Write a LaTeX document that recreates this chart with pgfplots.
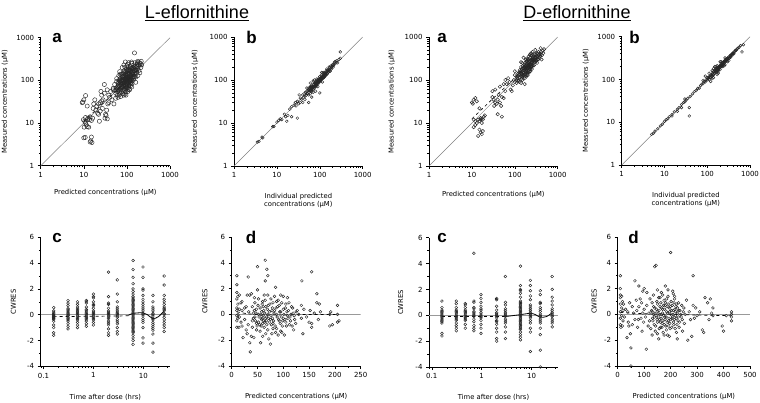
\documentclass[border=0pt]{standalone}
\usepackage{fontspec}
\setmainfont{DejaVu Sans}
\newfontfamily\titlefont{Liberation Sans}
\usepackage{pgfplots}
\pgfplotsset{compat=1.18}
\pgfplotsset{
 mypanel/.style={scale only axis, axis lines=left, axis line style={-, black, line width=0.6pt},
   tick align=outside, tick style={black, line width=0.5pt}, major tick length=3pt, minor tick length=1.8pt,
   tick label style={font=\fontsize{7}{8}\selectfont}, label style={font=\fontsize{6.8}{8}\selectfont},
   /pgf/number format/assume math mode=true},
 myll/.style={mypanel, xmin=1, xmax=1000, ymin=1, ymax=1000,
   xtick={1,10,100,1000}, xticklabels={1,10,100,1000}, ytick={1,10,100,1000}, yticklabels={1,10,100,1000},
   minor xtick={2,3,4,5,6,7,8,9,20,30,40,50,60,70,80,90,200,300,400,500,600,700,800,900},
   minor ytick={2,3,4,5,6,7,8,9,20,30,40,50,60,70,80,90,200,300,400,500,600,700,800,900},
   ylabel={Measured concentrations (μM)}},
 mycw/.style={mypanel, ymin=-4, ymax=6, ytick={-4,-2,0,2,4,6}, yticklabels={-4,-2,0,2,4,6}, minor ytick={-3,-1,1,3,5}, ylabel={CWRES}},
 mytime/.style={xmin=0.088, xmax=34, xtick={0.1,1,10}, xticklabels={0.1,1,10},
   minor xtick={0.09,0.2,0.3,0.4,0.5,0.6,0.7,0.8,0.9,2,3,4,5,6,7,8,9,20,30}, xlabel={Time after dose (hrs)}},
 mypts/.style={only marks, mark=o, mark size=#1, mark options={line width=0.45pt, draw=black!85}},
 myident/.style={gray, line width=0.5pt, no marks},
 myzero/.style={gray!80, line width=0.6pt, no marks},
}
\newcommand{\plab}[3]{\node[font=\titlefont\bfseries\fontsize{17}{17}\selectfont, anchor=center] at (#1pt,#2pt) {#3};}
\begin{document}
\begin{tikzpicture}
\path[use as bounding box] (0pt,0pt) rectangle (760pt,402pt);
\node[font=\titlefont\fontsize{18}{19}\selectfont] at (197pt,389pt) {\underline{L-eflornithine}};
\node[font=\titlefont\fontsize{18}{19}\selectfont] at (577pt,389pt) {\underline{D-eflornithine}};

% ---------- L-a
\begin{loglogaxis}[myll, at={(40.7pt,236.3pt)}, anchor=south west, width=129.3pt, height=128pt,
  xlabel={Predicted concentrations (μM)},
  xlabel style={at={(axis description cs:0.5,0)}, anchor=center, yshift=-27.3pt},
  ylabel style={at={(axis description cs:-0.276,0.5)}, anchor=center}]
\addplot[myident] coordinates {(1,1) (1000,1000)};
\addplot[mypts=2.1pt] coordinates {(9.5,31)(10,35)(9.2,30)(11,44)(12,25)(9.8,12)(10.5,11)(11,10)(11.5,9)(10.2,8)(12,8.2)(13,8)(10,4.5)(10.8,4.6)(15,4.7)(14,3.6)(15.5,3.5)(14.5,3.8)(12.5,13)(13.5,12)(14,14)(15,11.5)(16,13)(11,13.5)(12,12)(17,28)(18,35)(16.5,22)(20,25)(19,20)(21,17)(22,16)(23,11)(24,30)(25,55)(26,45)(28,35)(30,50)(27,22)(31,13)(32,16)(33,15)(35,12.5)(34,20)(36,28)(38,30)(40,40)(30,80)(35,60)(42,55)(45,35)(38,45)(48,60)(50,28)(22,28)(24,19)(26,33)
(55,50)(60,45)(60,70)(62,55)(65,60)(65,90)(68,75)(70,50)(70,65)(70,110)(72,80)(75,55)(75,95)(75,140)(78,70)(80,60)(80,85)(80,120)(82,100)(85,45)(85,75)(85,150)(88,90)(90,65)(90,110)(90,200)(92,80)(95,55)(95,130)(95,95)(98,70)(100,100)(100,160)(100,85)(102,60)(105,120)(105,240)(108,90)(110,75)(110,140)(112,180)(115,100)(115,60)(118,130)(120,85)(120,210)(125,110)(125,160)(130,70)(130,250)(135,140)(140,100)(140,200)(150,120)(150,170)(155,260)(160,90)(165,150)(170,210)(180,130)(180,280)(190,170)(200,230)(210,200)(215,280)(200,150)(175,260)(160,200)(145,230)(128,270)(110,260)(88,170)(65,130)(58,95)(52,80)(48,65)(55,38)(62,40)(72,42)(80,48)(95,45)(105,55)(90,48)(66,100)(76,125)(84,130)(93,160)(97,180)(103,145)(113,115)(118,95)(122,75)(135,180)(142,125)(155,210)(62,85)(70,140)(78,200)(85,230)(92,270)(100,220)(108,200)(68,160)(110,170)(95,115)(85,105)(75,80)(100,115)(150,440)
(58,60)(63,72)(67,58)(71,88)(74,66)(77,105)(79,92)(81,74)(83,115)(86,82)(87,62)(89,125)(91,95)(93,72)(94,105)(96,140)(97,88)(99,110)(101,78)(103,95)(104,130)(106,68)(107,105)(109,150)(111,88)(112,120)(114,78)(116,145)(117,108)(119,170)(121,98)(123,130)(124,90)(126,190)(127,120)(129,100)(132,155)(134,115)(137,200)(139,135)(141,170)(144,110)(146,150)(148,190)(152,140)(157,180)(162,120)(168,170)(172,240)(178,190)(185,230)(195,260)(205,250)(220,230)(58,110)(66,45)(73,100)(82,140)(88,58)(96,75)(102,170)(113,62)(119,195)(131,85)(85,88)(92,102)(98,120)(105,80)(76,72)(69,95)(64,78)(57,66)(53,58)(61,62)};
\addplot[black, dashed, line width=0.6pt, no marks] coordinates {(10,11) (30,31) (100,98) (200,190)};
\end{loglogaxis}

% ---------- L-b
\begin{loglogaxis}[myll, at={(234pt,236pt)}, anchor=south west, width=128.7pt, height=129pt,
  xlabel={Individual predicted\\concentrations (μM)},
  xlabel style={at={(axis description cs:0.5,0)}, anchor=center, align=center, yshift=-35pt},
  ylabel style={at={(axis description cs:-0.303,0.5)}, anchor=center}]
\addplot[myident] coordinates {(1,1) (1000,1000)};
\addplot[mypts=1.4pt] coordinates {(3.5,3.6)(3.8,3.7)(4.5,4.7)(4.7,4.5)(8,8.2)(8.5,8.3)(10,10.5)(11,11.5)(12,12.5)(13,12)(15,16)(16,14)(17,11)(18,15)(20,21)(22,24)(22,14)(25,26)(27,30)(28,25)(30,32)(30,13)(32,28)(35,38)(38,36)(40,45)(42,40)(45,50)(48,44)(50,55)(52,48)(55,60)(55,45)(58,62)(60,55)(60,70)(62,58)(65,72)(65,55)(68,65)(70,78)(70,60)(72,70)(75,85)(75,65)(78,80)(80,90)(80,70)(82,78)(85,95)(85,75)(88,90)(90,100)(90,80)(92,85)(95,110)(95,90)(98,95)(100,120)(100,105)(100,90)(100,50)(105,100)(108,115)(110,130)(110,105)(115,120)(115,90)(120,130)(120,110)(125,140)(125,115)(130,150)(130,120)(140,160)(140,130)(150,170)(150,140)(160,165)(170,190)(175,160)(180,210)(190,200)(200,230)(210,220)(220,260)(230,270)(250,280)(260,250)(280,300)(300,320)(300,450)(55,30)(65,40)(80,55)(50,65)(70,95)(40,30)(35,30)(33,45)(45,35)(60,85)(120,150)(145,180)(165,200)
(45,42)(47,52)(50,48)(53,58)(56,52)(57,66)(59,57)(61,66)(63,60)(64,68)(66,62)(67,70)(69,72)(71,66)(73,78)(74,70)(76,72)(77,82)(79,75)(81,85)(83,80)(84,88)(86,82)(87,92)(89,86)(91,95)(93,90)(94,98)(96,92)(97,102)(99,96)(102,108)(104,98)(106,110)(107,102)(109,112)(112,108)(113,118)(117,112)(118,124)(122,118)(123,128)(127,122)(128,135)(133,128)(135,142)(138,132)(143,150)(147,140)(155,160)(158,150)(163,172)(168,160)(178,185)(185,178)(195,210)(205,200)(215,235)(240,250)(60,48)(75,100)(90,70)(110,150)(85,105)(70,52)};
\end{loglogaxis}

% ---------- D-a
\begin{loglogaxis}[myll, at={(429pt,236pt)}, anchor=south west, width=128.7pt, height=129pt,
  xlabel={Predicted concentrations (μM)},
  xlabel style={at={(axis description cs:0.5,0)}, anchor=center, yshift=-29pt},
  ylabel style={at={(axis description cs:-0.290,0.5)}, anchor=center}]
\addplot[myident] coordinates {(1,1) (1000,1000)};
\addplot[mypts=1.7pt] coordinates {(10,30)(11,35)(12,38)(10.5,28)(13,32)(15,22)(11,12)(12,11)(13,10)(14,12)(15,11)(16,12)(17,12.5)(12,9)(11,8)(14,5)(16,6)(17,5.5)(15,7)(18,6.5)(16,13)(18,12)(19,14)(20,15)(17,10)(30,40)(32,35)(35,30)(38,28)(40,35)(42,45)(30,55)(35,60)(33,25)(45,30)(40,16)(50,14)(48,25)(55,38)(45,70)(55,80)(60,55)(50,40)(60,100)(70,110)(65,80)(75,90)(80,60)(85,55)(90,75)(95,100)(100,90)(100,130)(110,120)(110,85)(120,100)(125,150)(130,90)(130,170)(140,120)(140,200)(150,140)(150,100)(150,250)(160,170)(160,130)(170,110)(170,200)(180,150)(180,300)(190,220)(190,170)(200,190)(200,260)(200,130)(210,240)(210,350)(220,180)(220,280)(230,220)(230,400)(240,300)(250,250)(250,180)(260,330)(260,450)(270,280)(280,220)(280,380)(290,300)(300,260)(300,500)(320,350)(330,250)(340,420)(350,300)(360,380)(380,320)(400,400)(400,550)(420,300)(450,480)(170,80)(140,85)(160,150)(180,190)(190,130)(210,160)(230,160)(240,210)(120,140)(135,160)(145,180)(155,210)(165,230)(175,250)(185,270)(195,310)(225,330)(245,370)(265,300)(300,340)(320,280)(205,200)(215,220)(110,100)(100,160)(160,330)(140,260)
(115,110)(118,125)(122,95)(127,135)(132,115)(137,145)(142,105)(147,160)(152,125)(157,185)(162,145)(167,120)(172,175)(177,135)(182,210)(187,160)(192,240)(197,180)(202,150)(207,220)(212,190)(217,260)(222,200)(227,240)(232,180)(237,280)(242,230)(247,200)(252,300)(257,260)(262,220)(267,350)(272,300)(277,250)(282,320)(287,270)(292,400)(297,290)(305,330)(312,380)(318,300)(325,420)(335,350)(345,300)(355,450)(365,340)(375,400)(390,360)(410,450)(430,380)(460,420)(480,520)(170,140)(185,120)(195,140)(215,150)(235,200)(255,210)(175,220)(190,280)(205,300)(225,380)(240,420)(160,190)(150,120)(145,135)(200,210)(210,205)(180,175)};
\addplot[black, dashed, line width=0.6pt, no marks] coordinates {(10,12.5) (30,36) (100,110) (300,320)};
\end{loglogaxis}

% ---------- D-b
\begin{loglogaxis}[myll, at={(621.7pt,237pt)}, anchor=south west, width=128.3pt, height=128.3pt,
  xlabel={Individual predicted\\concentrations (μM)},
  xlabel style={at={(axis description cs:0.5,0)}, anchor=center, align=center, yshift=-35pt},
  ylabel style={at={(axis description cs:-0.278,0.5)}, anchor=center}]
\addplot[myident] coordinates {(1,1) (1000,1000)};
\addplot[mypts=1.4pt] coordinates {(5,5.2)(5.5,5.5)(6,6.2)(7,7)(8,8.2)(9,9)(10,10.5)(11,11.5)(12,12)(13,13.5)(15,15)(17,17.5)(20,20)(22,22)(25,26)(28,29)(30,30)(32,33)(35,36)(38,22)(38,14)(40,40)(45,46)(50,52)(55,55)(60,62)(65,63)(70,72)(75,78)(80,80)(85,90)(90,88)(95,100)(100,98)(100,110)(110,112)(110,100)(120,125)(120,110)(130,135)(130,120)(140,150)(140,130)(150,165)(150,140)(160,170)(160,150)(170,180)(170,160)(180,190)(180,165)(190,205)(190,180)(200,210)(200,190)(210,230)(220,215)(230,250)(240,230)(250,270)(250,240)(260,280)(270,260)(280,300)(290,280)(300,320)(320,310)(340,360)(350,330)(370,390)(380,360)(400,420)(420,400)(450,480)(500,520)(550,560)(600,620)(700,650)(650,440)(140,180)(130,160)(120,90)(160,200)(180,140)(110,140)(30,35)(25,22)(20,18)(15,14)(140,110)(200,260)(230,200)(260,220)(300,260)(170,130)(90,120)(80,95)
(105,105)(112,118)(118,112)(125,130)(128,122)(135,140)(138,128)(145,152)(148,140)(155,160)(158,150)(165,172)(168,160)(175,182)(178,170)(185,195)(188,178)(195,200)(198,188)(205,215)(208,198)(215,225)(218,205)(225,235)(228,215)(235,245)(238,225)(245,258)(255,262)(265,275)(275,285)(285,290)(295,310)(305,300)(315,330)(330,320)(345,350)(360,370)(375,380)(390,400)(410,410)(430,445)(460,470)(480,490)(520,540)(150,200)(180,150)(210,260)(250,210)(200,170)(170,210)(130,105)(260,320)(320,280)};
\end{loglogaxis}

% ---------- L-c
\begin{semilogxaxis}[mycw, mytime, at={(40.7pt,35.7pt)}, anchor=south west, width=129.3pt, height=129pt,
  xlabel style={at={(axis description cs:0.5,0)}, anchor=center, yshift=-30.7pt},
  ylabel style={at={(axis description cs:-0.212,0.5)}, anchor=center}]
\addplot[myzero] coordinates {(0.088,0) (34,0)};
\addplot[mypts=1.4pt] coordinates {
(0.16,0.55)(0.16,0.3)(0.16,0.1)(0.16,-0.05)(0.16,-0.15)(0.16,-0.3)(0.16,-0.5)(0.16,-0.8)(0.16,-1.0)(0.16,-1.4)(0.16,-1.6)(0.16,0.0)(0.16,-0.2)(0.16,-0.25)(0.16,-0.1)(0.16,0.2)(0.16,-0.35)
(0.31,1.1)(0.31,0.7)(0.31,0.5)(0.31,0.3)(0.31,0.1)(0.31,0)(0.31,-0.1)(0.31,-0.3)(0.31,-0.5)(0.31,-0.7)(0.31,-0.9)(0.31,-1.1)(0.31,0.9)(0.31,-0.2)(0.31,-0.05)(0.31,0.2)(0.31,-0.4)(0.31,0.4)
(0.48,1.0)(0.48,0.8)(0.48,0.5)(0.48,0.3)(0.48,0.1)(0.48,0)(0.48,-0.2)(0.48,-0.4)(0.48,-0.6)(0.48,-0.8)(0.48,-1.0)(0.48,0.6)(0.48,-0.1)(0.48,0.2)(0.48,-0.3)(0.48,0.4)
(0.72,1.1)(0.72,0.9)(0.72,0.6)(0.72,0.4)(0.72,0.2)(0.72,0)(0.72,-0.1)(0.72,-0.3)(0.72,-0.5)(0.72,-0.7)(0.72,-0.9)(0.72,1.0)(0.72,0.1)(0.72,-0.2)(0.72,0.3)(0.72,-0.4)
(1,1.6)(1,1.3)(1,1.0)(1,0.7)(1,0.5)(1,0.2)(1,0)(1,-0.2)(1,-0.4)(1,-0.6)(1,-0.8)(1,1.4)(1,0.1)(1,-0.1)(1,0.3)(1,-0.3)(1,0.8)
(2,3.3)(2,1.4)(2,0.8)(2,0.5)(2,0.2)(2,0)(2,-0.2)(2,-0.5)(2,-0.8)(2,-1.1)(2,-1.4)(2,-1.6)(2,0.9)(2,0.1)(2,-0.1)(2,0.3)(2,-0.3)(2,-0.65)
(3,2.7)(3,1.6)(3,1.0)(3,0.6)(3,0.3)(3,0.1)(3,-0.1)(3,-0.4)(3,-0.7)(3,-1.0)(3,-1.3)(3,-1.5)(3,0.2)(3,0)(3,-0.2)(3,0.45)(3,-0.55)
(6.2,4.2)(6.2,3.5)(6.2,2.9)(6.2,2.4)(6.2,2.0)(6.2,1.6)(6.2,1.4)(6.2,1.2)(6.2,1.0)(6.2,0.8)(6.2,0.6)(6.2,0.4)(6.2,0.2)(6.2,0)(6.2,-0.2)(6.2,-0.4)(6.2,-0.6)(6.2,-0.8)(6.2,-1.0)(6.2,-1.2)(6.2,-1.4)(6.2,-1.6)(6.2,-1.8)(6.2,-2.0)(6.2,-2.3)(6.2,1.8)(6.2,0.1)(6.2,0.3)(6.2,-0.1)(6.2,-0.3)(6.2,0.5)(6.2,-0.5)(6.2,0.7)(6.2,-0.7)(6.2,0.9)(6.2,-0.9)(6.2,1.1)(6.2,-1.1)(6.2,-1.3)(6.2,1.3)
(9.8,3.7)(9.8,2.9)(9.8,2.0)(9.8,1.5)(9.8,1.0)(9.8,0.6)(9.8,0.3)(9.8,0)(9.8,-0.3)(9.8,-0.6)(9.8,-1.0)(9.8,-1.8)(9.8,-2.2)(9.8,1.9)(9.8,0.1)(9.8,-0.1)(9.8,0.45)(9.8,-0.45)(9.8,0.8)(9.8,1.2)
(15.5,1.5)(15.5,1.0)(15.5,0.6)(15.5,0.3)(15.5,0)(15.5,-0.3)(15.5,-0.6)(15.5,-0.9)(15.5,-1.2)(15.5,-1.5)(15.5,-2.2)(15.5,-2.9)(15.5,-0.4)(15.5,0.1)(15.5,-0.1)(15.5,0.45)(15.5,-0.75)(15.5,-1.05)
(26,3.0)(26,2.3)(26,1.5)(26,1.2)(26,0.8)(26,0.5)(26,0.3)(26,0)(26,-0.4)(26,-0.8)(26,-1.0)(26,-1.3)(26,1.0)(26,0.1)(26,-0.2)(26,0.4)(26,0.6)(26,-0.6)};
\addplot[black, dashed, line width=0.7pt, no marks] coordinates {(0.16,-0.15)(1,-0.12)(3,-0.1)(5,-0.08)};
\addplot[black, line width=0.8pt, no marks, smooth] coordinates {(5,-0.05)(6.2,0.1)(9.8,0.15)(12,0)(15.5,-0.3)(20,-0.15)(26,0.3)};
\end{semilogxaxis}

% ---------- L-d
\begin{axis}[mycw, at={(231.7pt,36pt)}, anchor=south west, width=129pt, height=129pt,
  xmin=0, xmax=250, xtick={0,50,100,150,200,250}, xticklabels={0,50,100,150,200,250}, minor xtick={25,75,125,175,225},
  xlabel={Predicted concentrations (μM)},
  xlabel style={at={(axis description cs:0.5,0)}, anchor=center, yshift=-31pt},
  ylabel style={at={(axis description cs:-0.207,0.5)}, anchor=center}]
\addplot[myzero] coordinates {(0,0) (250,0)};
\addplot[mypts=1.4pt] coordinates {(10,3.0)(10,2.3)(10,1.7)(10,1.2)(10,0.5)(10,0.3)(10,-0.1)(10,-0.5)(10,-1.0)(12,1.4)(12,0.8)(12,0)(12,-0.3)(14,-1.0)(15,1.5)(15,0.4)(15,-0.2)(18,0.9)(18,-0.6)(20,1.0)(20,0.3)(20,-0.9)(22,-1.8)(25,0.5)(25,-0.4)(28,0.6)(28,-1.2)(30,1.5)(30,-1.5)(32,2.9)(32,-0.8)(33,0.2)(35,1.5)(35,-2.2)(36,-2.9)(38,1.6)(38,-1.7)(40,0.6)(40,-0.5)(40,-1.0)(42,0.1)(43,-1.8)(45,0.9)(45,-0.2)(48,-0.7)(48,0.4)(50,3.7)(50,1.9)(52,0.0)(52,-0.6)(55,-1.3)(55,0.5)(56,-2.2)(58,0.2)(58,-0.4)(60,1.0)(60,-0.7)(62,0.3)(62,-0.5)(63,-1.0)(65,4.2)(65,2.6)(65,1.1)(65,-0.3)(66,0.6)(68,3.5)(68,-0.8)(70,3.0)(70,1.5)(70,0.0)(70,-1.2)(72,-1.9)(74,0.8)(75,-0.4)(75,-2.3)(76,1.2)(78,0.3)(78,-1.5)(80,0.9)(80,-0.7)(82,0.1)(85,2.1)(85,-1.4)(86,0.5)(88,-0.2)(90,1.1)(90,-1.6)(92,0.7)(92,-0.5)(95,0.2)(95,-1.3)(98,-0.9)(100,1.4)(100,0.4)(100,-0.3)(102,-1.6)(105,0.8)(105,-0.6)(108,1.3)(108,-0.1)(110,0.3)(112,-0.8)(115,0.0)(118,0.5)(120,-1.2)(122,-0.4)(125,0.2)(130,0.0)(135,0.7)(135,-0.3)(136,2.6)(138,-1.5)(140,0.4)(145,-0.2)(150,-0.6)(152,0.3)(155,3.3)(155,-0.7)(155,-1.0)(160,0.1)(165,1.6)(165,0.9)(168,-0.4)(170,0.8)(172,0.2)(190,0.0)(190,-0.9)(195,-0.8)(192,0.2)(205,0.7)(205,-0.6)(205,0.0)(208,-0.5)
(42,-0.3)(44,0.3)(46,-0.5)(47,0.1)(49,-0.9)(51,0.7)(53,-0.2)(54,-0.8)(57,0.0)(59,-0.3)(61,-0.1)(61,0.6)(64,-0.6)(64,0.1)(67,-0.2)(67,-0.5)(69,0.4)(71,-0.3)(71,0.7)(73,-0.6)(73,0.2)(76,-0.1)(77,-0.8)(79,0.5)(79,-0.3)(81,-0.5)(83,0.3)(84,-0.9)(87,0.0)(87,-1.1)(89,0.6)(91,-0.4)(93,0.2)(94,-0.7)(96,-0.2)(97,0.9)(99,-0.5)(101,0.0)(103,-0.4)(104,0.5)(106,-0.9)(107,0.2)(109,-0.3)(111,0.9)(113,-0.2)(114,-0.5)(116,0.6)(117,-0.9)(119,0.1)(121,-0.1)(124,-0.7)(127,0.3)(57,-0.9)(59,0.8)(63,1.5)(66,-1.5)(83,1.4)(87,1.0)(97,-1.4)(52,1.2)(48,-1.2)(44,1.3)(60,-1.7)(80,-1.1)(95,1.5)};
\addplot[black, dashed, line width=0.7pt, no marks] coordinates {(10,0.2)(30,0.05)(60,-0.05)(100,-0.05)(150,0)(205,0)};
\end{axis}

% ---------- D-c
\begin{semilogxaxis}[mycw, mytime, at={(429pt,35pt)}, anchor=south west, width=129pt, height=129.3pt,
  xlabel style={at={(axis description cs:0.5,0)}, anchor=center, yshift=-30.7pt},
  ylabel style={at={(axis description cs:-0.219,0.5)}, anchor=center}]
\addplot[myzero] coordinates {(0.088,0) (34,0)};
\addplot[mypts=1.4pt] coordinates {
(0.16,1.1)(0.16,0.6)(0.16,0.4)(0.16,0.2)(0.16,0)(0.16,-0.2)(0.16,-0.4)(0.16,-0.6)(0.16,-1.4)(0.16,-1.6)(0.16,0.1)(0.16,-0.1)(0.16,0.3)(0.16,-0.3)(0.16,-0.5)
(0.31,1.1)(0.31,0.9)(0.31,0.6)(0.31,0.4)(0.31,0.2)(0.31,0)(0.31,-0.2)(0.31,-0.4)(0.31,-0.6)(0.31,-0.8)(0.31,-1.0)(0.31,-1.2)(0.31,0.1)(0.31,-0.1)(0.31,0.3)(0.31,-0.3)
(0.47,0.9)(0.47,0.6)(0.47,0.4)(0.47,0.2)(0.47,0)(0.47,-0.2)(0.47,-0.4)(0.47,-0.7)(0.47,-1.0)(0.47,0.8)(0.47,0.1)(0.47,-0.1)(0.47,0.3)(0.47,-0.3)
(0.7,4.8)(0.7,1.1)(0.7,1.0)(0.7,0.6)(0.7,0.3)(0.7,0)(0.7,-0.3)(0.7,-0.5)(0.7,-0.8)(0.7,-1.0)(0.7,-1.2)(0.7,0.5)(0.7,0.1)(0.7,-0.1)(0.7,0.2)
(0.97,1.6)(0.97,1.3)(0.97,1.0)(0.97,0.7)(0.97,0.4)(0.97,0.1)(0.97,-0.1)(0.97,-0.4)(0.97,-0.7)(0.97,-1.0)(0.97,-1.4)(0.97,0.2)(0.97,0)(0.97,-0.2)(0.97,0.5)
(2,1.3)(2,1.2)(2,0.7)(2,0.4)(2,0.1)(2,-0.1)(2,-0.4)(2,-0.7)(2,-1.0)(2,-1.3)(2,-1.8)(2,-2.0)(2,0)(2,0.2)(2,-0.2)(2,-0.5)
(3,3.0)(3,1.0)(3,0.8)(3,0.5)(3,0.2)(3,0)(3,-0.3)(3,-0.6)(3,-0.9)(3,-1.3)(3,-1.8)(3,0.1)(3,-0.1)(3,0.35)(3,-0.45)
(6,3.8)(6,2.3)(6,2.0)(6,1.7)(6,1.4)(6,1.1)(6,0.9)(6,0.7)(6,0.5)(6,0.3)(6,0.1)(6,-0.1)(6,-0.3)(6,-0.5)(6,-0.7)(6,-0.9)(6,-1.1)(6,-1.3)(6,-1.5)(6,-1.7)(6,-1.9)(6,1.9)(6,0)(6,0.2)(6,-0.2)(6,0.4)(6,-0.4)(6,0.6)(6,-0.6)(6,0.8)(6,-0.8)(6,1.0)(6,-1.0)
(9.5,2.7)(9.5,2.3)(9.5,1.9)(9.5,1.5)(9.5,1.2)(9.5,0.8)(9.5,0.5)(9.5,0.2)(9.5,0)(9.5,-0.2)(9.5,-0.6)(9.5,-1.0)(9.5,-1.3)(9.5,-2.8)(9.5,0.1)(9.5,-0.1)(9.5,0.35)(9.5,-0.4)(9.5,0.65)
(15,1.9)(15,1.6)(15,0.9)(15,0.6)(15,0.3)(15,0)(15,-0.3)(15,-0.6)(15,-1.0)(15,-1.5)(15,-2.7)(15,-4.0)(15,1.0)(15,0.1)(15,-0.1)(15,0.45)(15,-0.45)
(26,3.0)(26,2.0)(26,1.4)(26,1.1)(26,0.8)(26,0.5)(26,0.2)(26,0)(26,-0.3)(26,-0.6)(26,-0.9)(26,0.1)(26,-0.1)(26,0.35)(26,-0.45)};
\addplot[black, dashed, line width=0.7pt, no marks] coordinates {(0.16,-0.1)(1,-0.1)(3,-0.1)};
\addplot[black, line width=0.8pt, no marks, smooth] coordinates {(3,-0.1)(6,0.05)(9.5,0.15)(12,0.05)(15,-0.15)(20,-0.1)(26,0.2)};
\end{semilogxaxis}

% ---------- D-d
\begin{axis}[mycw, at={(617.7pt,36pt)}, anchor=south west, width=132.3pt, height=129pt,
  xmin=0, xmax=500, xtick={0,100,200,300,400,500}, xticklabels={0,100,200,300,400,500}, minor xtick={50,150,250,350,450},
  xlabel={Predicted concentrations (μM)},
  xlabel style={at={(axis description cs:0.5,0)}, anchor=center, yshift=-31pt},
  ylabel style={at={(axis description cs:-0.179,0.5)}, anchor=center}]
\addplot[myzero] coordinates {(0,0) (500,0)};
\addplot[mypts=1.4pt] coordinates {(10,3.0)(10,2.0)(10,1.5)(10,1.3)(10,0.8)(10,0.2)(10,-0.3)(10,-0.8)(12,-1.0)(15,1.4)(15,0.5)(15,-0.1)(18,1.0)(18,-0.9)(20,0.3)(20,-0.5)(22,0.8)(25,-0.2)(30,0.4)(35,-1.8)(38,0.2)(40,-0.6)(42,-0.9)(45,0.9)(48,-1.5)(50,-2.6)(50,-4.0)(55,0.6)(55,-0.8)(60,0.1)(65,2.6)(65,-0.4)(70,1.1)(72,0.3)(75,-1.0)(78,-0.4)(80,2.2)(80,0.6)(85,1.2)(88,-0.3)(90,0.9)(92,-1.3)(95,1.8)(95,0.1)(98,-0.6)(100,2.0)(100,0.4)(105,-0.2)(108,-2.7)(110,1.7)(110,0.7)(115,-0.9)(118,0.1)(120,-0.5)(122,1.2)(125,-1.1)(128,0.3)(130,-1.6)(130,0.9)(132,-0.3)(135,1.5)(135,0.0)(138,-0.8)(140,3.7)(140,0.5)(142,-1.3)(145,3.8)(145,-0.1)(148,1.0)(150,-0.6)(150,1.9)(152,0.2)(155,-1.9)(155,1.3)(158,-0.4)(160,0.6)(162,-1.0)(165,0.0)(165,1.7)(168,-0.7)(170,0.4)(172,-1.4)(175,1.1)(178,-0.2)(180,2.2)(180,0.7)(182,-0.9)(185,0.2)(188,-1.6)(190,1.4)(192,-0.5)(195,0.5)(198,-1.1)(200,4.8)(200,0.0)(202,1.0)(205,-0.3)(208,1.8)(210,0.3)(212,-0.8)(215,1.2)(218,-0.1)(220,0.6)(222,-1.4)(225,0.1)(228,-0.5)(230,0.9)(232,-1.0)(235,0.3)(240,-0.2)(242,0.7)(245,-1.3)(250,0.5)(252,-0.7)(255,0.0)(260,1.1)(265,-2.0)(270,0.2)(275,-0.4)(280,-1.7)(285,3.0)(285,0.7)(290,-0.3)(295,0.5)(300,-0.1)(310,0.2)(320,-1.2)(325,-1.4)(330,1.3)(340,0.9)(345,-0.4)(350,1.2)(355,0.1)(360,-0.1)(360,0.5)(395,-0.9)(400,-1.3)(410,-0.1)(430,0.2)(430,-0.2)(430,-0.5)(430,0.0)
(130,0.2)(133,-0.5)(136,0.6)(139,-0.2)(141,0.1)(143,-0.9)(146,0.4)(149,-0.4)(151,0.8)(153,-0.2)(156,0.3)(157,-1.1)(159,0.0)(161,-0.6)(163,0.9)(164,-0.3)(166,0.5)(167,-1.0)(169,0.1)(171,-0.5)(173,0.7)(174,-0.1)(176,-0.8)(177,0.4)(179,-0.4)(181,0.9)(183,-0.2)(184,-1.2)(186,0.6)(187,-0.6)(189,0.1)(191,-0.9)(193,0.8)(194,-0.3)(196,0.2)(197,-0.7)(199,0.6)(201,-0.4)(203,0.3)(204,-1.0)(206,0.7)(207,-0.2)(209,0.0)(211,-0.6)(213,0.9)(214,-0.4)(216,0.4)(217,-1.1)(219,0.2)(221,-0.3)(223,0.8)(224,-0.8)(226,0.5)(229,-0.2)(231,0.3)(234,-0.6)(238,0.0)(244,-0.4)(248,0.2)(160,1.3)(170,1.5)(190,1.9)(210,1.6)(150,-1.5)(175,-1.6)(195,-1.7)(215,1.4)(225,-1.9)(185,1.2)};
\addplot[black, dashed, line width=0.7pt, no marks] coordinates {(10,0.15)(50,0.1)(100,0.05)(200,0)(300,-0.05)(430,-0.1)};
\end{axis}

\plab{57}{364}{a}
\plab{251.5}{364.5}{b}
\plab{442}{364}{a}
\plab{634.5}{364.5}{b}
\plab{57}{164}{c}
\plab{251}{165}{d}
\plab{442}{164}{c}
\plab{633.5}{165}{d}
\end{tikzpicture}
\end{document}
